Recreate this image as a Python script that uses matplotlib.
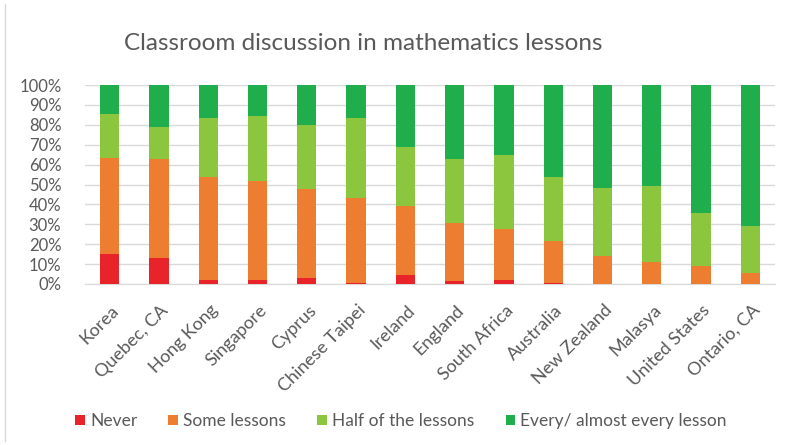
import matplotlib.pyplot as plt
import numpy as np
from matplotlib.ticker import PercentFormatter
from matplotlib.transforms import ScaledTranslation

countries = ['Korea', 'Quebec, CA', 'Hong Kong', 'Singapore', 'Cyprus',
             'Chinese Taipei', 'Ireland', 'England', 'South Africa',
             'Australia', 'New Zealand', 'Malasya', 'United States',
             'Ontario, CA']

# segment sizes (%)
never = [15, 13, 2, 2, 3, 0.5, 4.7, 1.3, 2, 0.5, 0, 0, 0, 0]
some = [48.5, 50, 52, 49.7, 44.7, 42.9, 34.5, 29.4, 25.5, 21, 14, 11, 9, 5.5]
half = [22.1, 16, 29.5, 32.8, 32.3, 40.1, 29.6, 32.3, 37.5, 32.1, 34.4, 38.2, 26.7, 23.5]
every = [100 - a - b - c for a, b, c in zip(never, some, half)]

series = [
    ('Never', never, '#e8232a'),
    ('Some lessons', some, '#ed7d31'),
    ('Half of the lessons', half, '#8cc63f'),
    ('Every/ almost every lesson', every, '#1fae4b'),
]

plt.rcParams['font.family'] = ['Lato', 'DejaVu Sans']
grey = '#595959'

fig = plt.figure(figsize=(7.9, 4.45), dpi=100)
ax = fig.add_axes([85 / 790, 1 - 284 / 445, 690 / 790, 199 / 445])

x = np.arange(len(countries))
bottom = np.zeros(len(countries))
for name, vals, color in series:
    ax.bar(x, vals, width=0.39, bottom=bottom, color=color, label=name, zorder=3)
    bottom += np.array(vals)

ax.set_xlim(-0.5, len(countries) - 0.5)
ax.set_ylim(0, 100)
ax.set_yticks(np.arange(0, 101, 10))
ax.yaxis.set_major_formatter(PercentFormatter(decimals=0))
ax.grid(axis='y', color='#d9d9d9', linewidth=1, zorder=0)
for s in ax.spines.values():
    s.set_visible(False)
ax.spines['bottom'].set_visible(True)
ax.spines['bottom'].set_color('#d9d9d9')
ax.tick_params(length=0, colors=grey)
ax.tick_params(axis='y', pad=17, labelsize=12)
ax.set_xticks(x)
ax.set_xticklabels(countries, rotation=45, ha='right', va='top',
                   rotation_mode='anchor', fontsize=13)
ax.tick_params(axis='x', pad=13)
shift = ScaledTranslation(1 / 100, 0, fig.dpi_scale_trans)
for lbl in ax.get_xticklabels():
    lbl.set_transform(lbl.get_transform() + shift)

fig.text(363 / 790, 1 - 43 / 445, 'Classroom discussion in mathematics lessons',
         ha='center', va='center', fontsize=17.5, color=grey)

fig.legend(loc='center', bbox_to_anchor=(401 / 790, 1 - 421 / 445), ncol=4,
           frameon=False, fontsize=12.5, labelcolor=grey, handlelength=0.55,
           handleheight=0.55, handletextpad=0.3, columnspacing=1.8)

fig.add_artist(plt.Line2D([5 / 790, 5 / 790], [0.01, 0.99], color='#d9d9d9',
                          linewidth=1, transform=fig.transFigure))

fig.savefig('out.png', dpi=100)
